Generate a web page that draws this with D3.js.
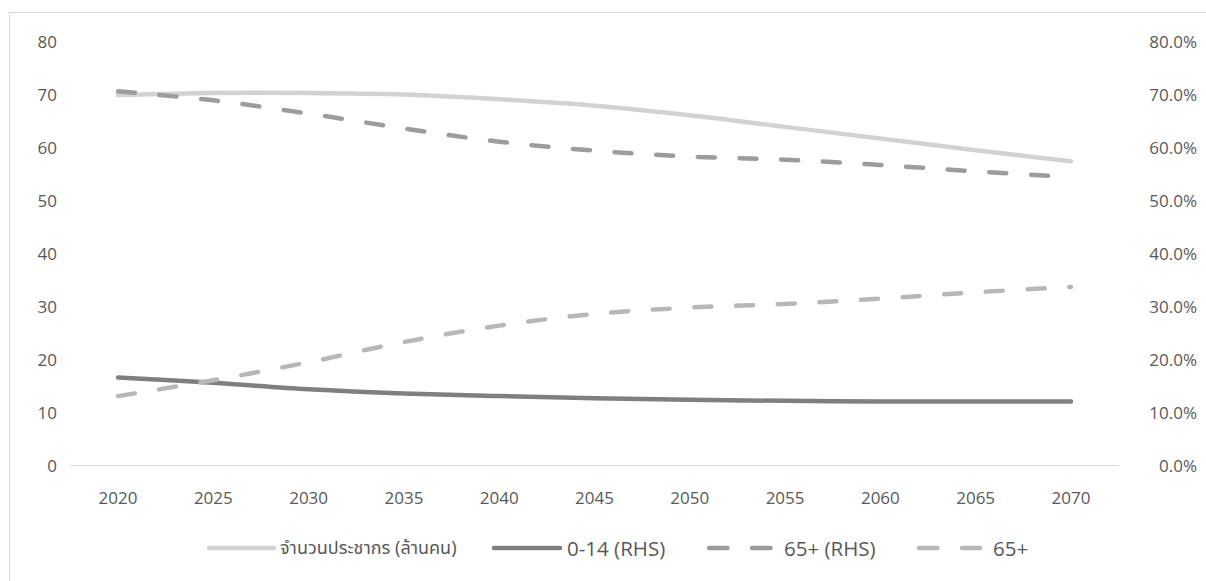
<!DOCTYPE html>
<html>
<head>
<meta charset="utf-8">
<script src="https://cdn.jsdelivr.net/npm/d3@7/dist/d3.min.js"></script>
<style>
  html, body { margin: 0; padding: 0; background: #fff; }
  svg { display: block; }
  .tick-label { font-family: "Open Sans", "Noto Sans", sans-serif; font-size: 17px; fill: #595959; }
  .legend-label { font-family: "Open Sans", "Noto Sans", sans-serif; font-size: 20.5px; fill: #595959; }
  .legend-thai { font-family: "Noto Sans Thai", "Tahoma", "Noto Sans", "DejaVu Sans", sans-serif; font-size: 18px; fill: #595959; }
</style>
</head>
<body>
<svg id="chart" width="1206" height="581"></svg>
<script>
// Years on the category axis
const years = [2020, 2025, 2030, 2035, 2040, 2045, 2050, 2055, 2060, 2065, 2070];

// Total population, million people (left axis)
const population = [69.8, 70.2, 70.2, 69.9, 69.0, 67.8, 66.0, 63.8, 61.6, 59.4, 57.3];
// Share aged 0-14 (right axis)
const age0to14Share = [0.165, 0.155, 0.143, 0.135, 0.130, 0.126, 0.123, 0.121, 0.120, 0.120, 0.120];
// Share aged 65+ (right axis)
const age65Share = [0.705, 0.688, 0.663, 0.635, 0.610, 0.593, 0.582, 0.576, 0.566, 0.554, 0.543];
// Population aged 65+ (left axis)
const age65 = [13.0, 16.0, 19.4, 23.2, 26.3, 28.5, 29.7, 30.4, 31.4, 32.6, 33.6];

// Axis tick labels
const leftTicks = [0, 10, 20, 30, 40, 50, 60, 70, 80];
const rightTicks = [0, 0.1, 0.2, 0.3, 0.4, 0.5, 0.6, 0.7, 0.8];

// Series names for the legend
const seriesNames = ["จำนวนประชากร (ล้านคน)", "0-14 (RHS)", "65+ (RHS)", "65+"];

const svg = d3.select("#chart");

// outer frame of the chart
svg.append("rect")
  .attr("x", 9.5).attr("y", 12.5)
  .attr("width", 1220).attr("height", 600)
  .attr("fill", "none").attr("stroke", "#d9d9d9").attr("stroke-width", 1);

const plot = { left: 70.4, right: 1118.6, top: 41, bottom: 465 };

const x = d3.scalePoint().domain(years).range([plot.left, plot.right]).padding(0.5);
const yLeft = d3.scaleLinear().domain([0, 80]).range([plot.bottom, plot.top]);
const yRight = d3.scaleLinear().domain([0, 0.8]).range([plot.bottom, plot.top]);

// horizontal baseline
svg.append("line")
  .attr("x1", plot.left).attr("x2", plot.right)
  .attr("y1", yLeft(0) + 0.5).attr("y2", yLeft(0) + 0.5)
  .attr("stroke", "#d9d9d9").attr("stroke-width", 1);

// left axis labels
svg.append("g").selectAll("text").data(leftTicks).join("text")
  .attr("class", "tick-label")
  .attr("x", 57).attr("y", d => yLeft(d))
  .attr("text-anchor", "end").attr("dominant-baseline", "central")
  .text(d3.format("d"));

// right axis labels
svg.append("g").selectAll("text").data(rightTicks).join("text")
  .attr("class", "tick-label")
  .attr("x", 1197).attr("y", d => yRight(d))
  .attr("text-anchor", "end").attr("dominant-baseline", "central")
  .text(d3.format(".1%"));

// category labels
svg.append("g").selectAll("text").data(years).join("text")
  .attr("class", "tick-label")
  .attr("x", d => x(d)).attr("y", 497)
  .attr("text-anchor", "middle").attr("dominant-baseline", "central")
  .text(d => d);

const curve = d3.curveCatmullRom.alpha(0.5);

const series = [
  { name: seriesNames[0], values: population, scale: yLeft, color: "#d2d2d2", dash: null },
  { name: seriesNames[1], values: age0to14Share, scale: yRight, color: "#7f7f7f", dash: null },
  { name: seriesNames[2], values: age65Share, scale: yRight, color: "#9c9c9c", dash: "17 24.7" },
  { name: seriesNames[3], values: age65, scale: yLeft, color: "#b7b7b7", dash: "17 24.7" }
];

// draw the lines
const lines = svg.append("g");
series.forEach(s => {
  const line = d3.line()
    .x((d, i) => x(years[i]))
    .y(d => s.scale(d))
    .curve(curve);
  lines.append("path")
    .datum(s.values)
    .attr("d", line)
    .attr("fill", "none")
    .attr("stroke", s.color)
    .attr("stroke-width", 4.5)
    .attr("stroke-linecap", "round")
    .attr("stroke-linejoin", "round")
    .attr("stroke-dasharray", s.dash);
});

// legend
const legendItems = [
  { s: series[0], x0: 209, x1: 274, tx: 280, cls: "legend-thai" },
  { s: series[1], x0: 494, x1: 560, tx: 567, cls: "legend-label" },
  { s: series[2], x0: 709, x1: 771, tx: 784, cls: "legend-label" },
  { s: series[3], x0: 919, x1: 980, tx: 993, cls: "legend-label" }
];
const legendY = 548;
const lg = svg.append("g");
legendItems.forEach(it => {
  lg.append("line")
    .attr("x1", it.x0).attr("x2", it.x1)
    .attr("y1", legendY).attr("y2", legendY)
    .attr("stroke", it.s.color).attr("stroke-width", 4.5)
    .attr("stroke-linecap", "round")
    .attr("stroke-dasharray", it.s.dash ? "18.5 24.5" : null);
  lg.append("text")
    .attr("class", it.cls)
    .attr("x", it.tx).attr("y", legendY)
    .attr("dominant-baseline", "central")
    .text(it.s.name);
});
</script>
</body>
</html>
